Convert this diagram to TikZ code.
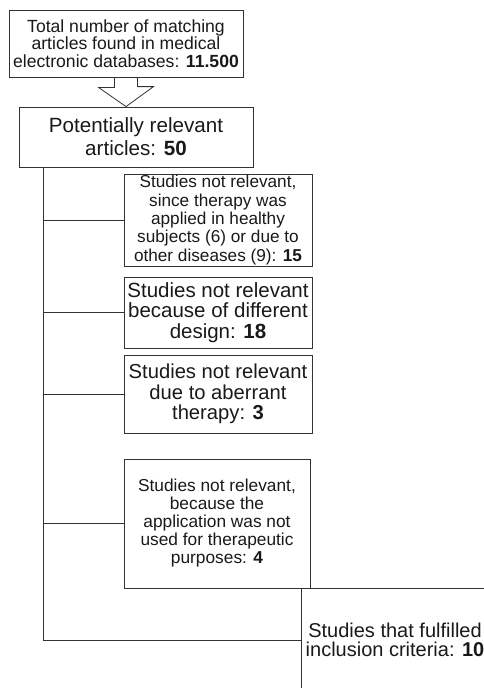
\documentclass[tikz,border=0pt]{standalone}
\usepackage{fontspec}
\setmainfont{Liberation Sans}

\begin{document}
\begin{tikzpicture}[x=1pt, y=-1pt, line width=0.8pt, color=black!80,
  main/.style = {draw, align=center, inner sep=0pt, text=black!90},
  fs/.style 2 args = {font={\fontsize{#1}{#2}\selectfont}}]
  \clip (0,0) rectangle (484,688);
  \node[main, fs={17.6}{17.6}, minimum width=234pt, minimum height=67pt] (1) at (126, 43.5)
    {Total number of matching\\articles found in medical\\electronic databases: \textbf{11.500}};
  \node[main, fs={20.6}{23}, minimum width=234pt, minimum height=60pt] (2) at (136, 137)
    {Potentially relevant\\articles: \textbf{50}};
  \node[main, fs={17.2}{18.3}, minimum width=188pt, minimum height=92pt] (3) at (218, 220)
    {Studies not relevant,\\since therapy was\\applied in healthy\\subjects (6) or due to\\other diseases (9): \textbf{15}};
  \node[main, fs={20.5}{20.2}, minimum width=188pt, minimum height=71pt] (4) at (218, 312.5)
    {Studies not relevant\\because of different\\design: \textbf{18}};
  \node[main, fs={20.2}{20.5}, minimum width=188pt, minimum height=78pt] (5) at (218, 394)
    {Studies not relevant\\due to aberrant\\therapy: \textbf{3}};
  \node[main, fs={17.3}{18}, minimum width=186pt, minimum height=129pt] (6) at (217, 523.5)
    {Studies not relevant,\\because the\\application was not\\used for therapeutic\\purposes: \textbf{4}};
  \node[main, fs={20}{19.5}, minimum width=188pt, minimum height=104pt] (7) at (395, 640)
    {Studies that fulfilled\\inclusion criteria: \textbf{10}};
  \coordinate (trunk) at (43, 0);
  % block arrow
  \draw[line join=miter] ([xshift=-11.5pt]1.south) -- ++(0,10) -- ++(-16,0)
    -- (1.south |- 2.north) -- ++(27.5,-20) -- ++(-16,0) -- ([xshift=11.5pt]1.south);
  % trunk and branches
  \draw (trunk |- 2.south) |- (7.west);
  \foreach \n in {3,4,5,6}
    \draw (trunk |- \n.west) -- (\n.west);
\end{tikzpicture}
\end{document}
